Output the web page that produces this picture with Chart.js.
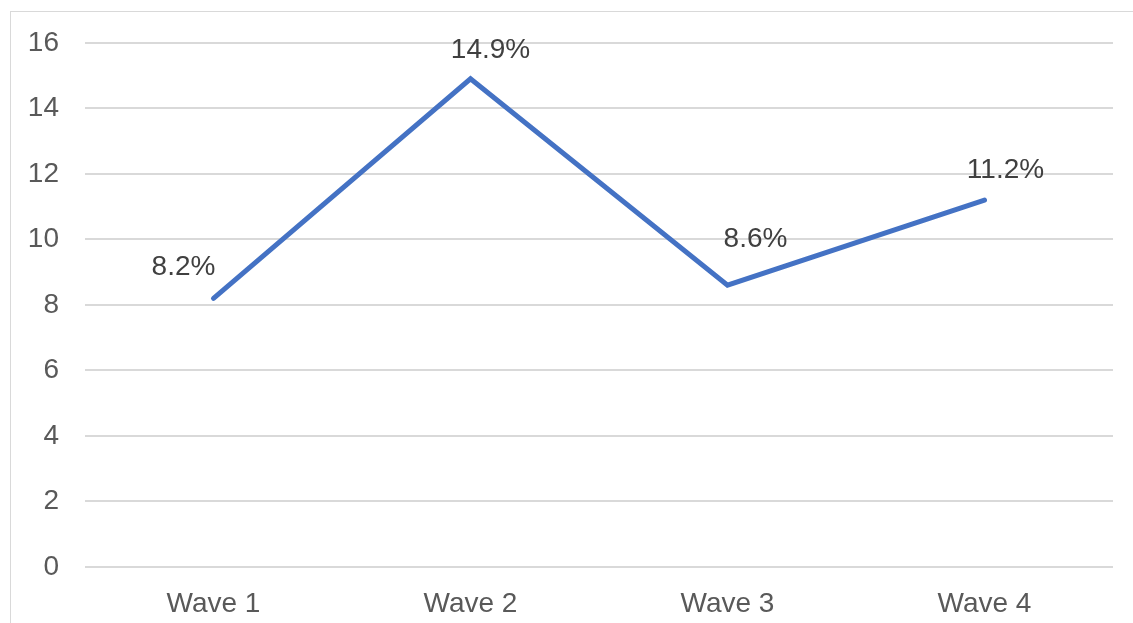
<!DOCTYPE html>
<html>
<head>
<meta charset="utf-8">
<script src="https://cdn.jsdelivr.net/npm/chart.js@4"></script>
<style>
  html, body { margin: 0; padding: 0; background: #fff; }
  #wrap { position: relative; width: 1133px; height: 623px; overflow: hidden; }
  #frame { position: absolute; left: 10px; top: 11px; width: 1140px; height: 630px; border: 1px solid #d9d9d9; box-sizing: border-box; }
  canvas { position: absolute; left: 0; top: 0; }
</style>
</head>
<body>
<div id="wrap">
  <div id="frame"></div>
  <canvas id="chart" width="1133" height="623"></canvas>
</div>
<script>
const waves = ['Wave 1', 'Wave 2', 'Wave 3', 'Wave 4'];
const rates = [8.2, 14.9, 8.6, 11.2];
const yTicks = [0, 2, 4, 6, 8, 10, 12, 14, 16];

// label offsets from each point (px), placed like the spreadsheet did
const labelShift = [[-30, -31], [20, -29], [28, -46], [21, -30]];

const pointLabels = {
  id: 'pointLabels',
  afterDatasetsDraw(chart) {
    const ctx = chart.ctx;
    const meta = chart.getDatasetMeta(0);
    ctx.save();
    ctx.font = '28px "Liberation Sans", Arial, sans-serif';
    ctx.fillStyle = '#404040';
    ctx.textAlign = 'center';
    ctx.textBaseline = 'middle';
    meta.data.forEach((pt, i) => {
      const [dx, dy] = labelShift[i];
      ctx.fillText(rates[i].toFixed(1) + '%', pt.x + dx, pt.y + dy);
    });
    ctx.restore();
  }
};

new Chart(document.getElementById('chart'), {
  type: 'line',
  data: {
    labels: waves,
    datasets: [{
      data: rates,
      borderColor: '#4472C4',
      borderWidth: 5,
      borderCapStyle: 'round',
      borderJoinStyle: 'miter',
      pointRadius: 0,
      pointHoverRadius: 0,
      tension: 0,
      fill: false
    }]
  },
  options: {
    responsive: false,
    animation: false,
    events: [],
    layout: { padding: { left: 0, top: 41, right: 20, bottom: 0 } },
    plugins: { legend: { display: false }, tooltip: { enabled: false } },
    scales: {
      x: {
        offset: true,
        grid: { display: false, drawTicks: false },
        border: { display: false },
        ticks: {
          color: '#595959',
          font: { family: '"Liberation Sans", Arial, sans-serif', size: 28 },
          padding: 20,
          maxRotation: 0
        },
        afterFit(scale) { scale.height = 56; }
      },
      y: {
        min: 0,
        max: 16,
        afterBuildTicks(scale) { scale.ticks = yTicks.map(v => ({ value: v })); },
        grid: { color: '#d9d9d9', lineWidth: 2, drawTicks: false },
        border: { display: false },
        ticks: {
          color: '#595959',
          font: { family: '"Liberation Sans", Arial, sans-serif', size: 28 },
          padding: 26
        },
        afterFit(scale) { scale.width = 85; }
      }
    }
  },
  plugins: [pointLabels]
});
</script>
</body>
</html>
